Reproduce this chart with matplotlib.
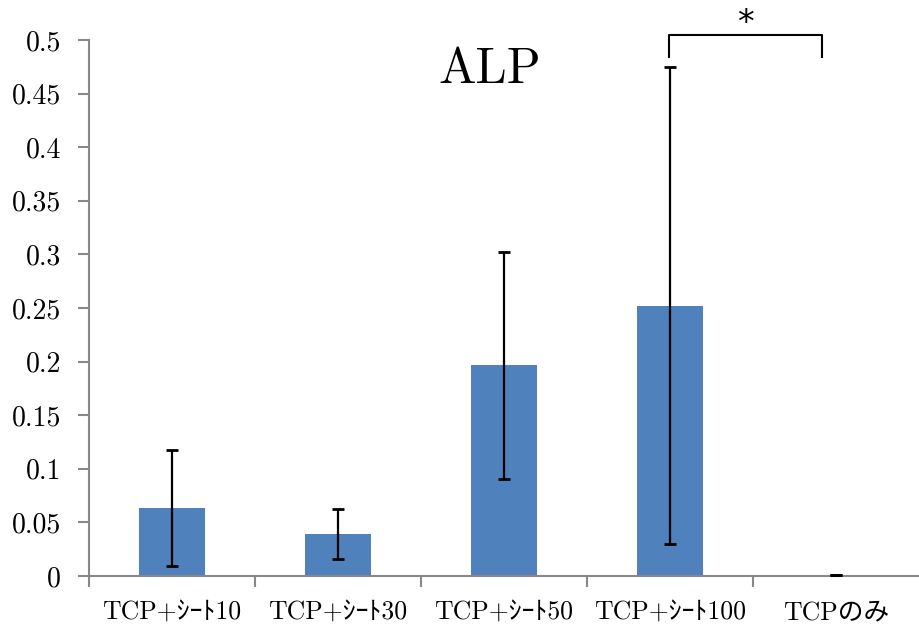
import matplotlib.pyplot as plt

plt.rcParams['font.family'] = ['cmr10', 'Noto Sans CJK JP']
plt.rcParams['axes.unicode_minus'] = False

categories = ["TCP+ｼｰﾄ10", "TCP+ｼｰﾄ30", "TCP+ｼｰﾄ50", "TCP+ｼｰﾄ100", "TCPのみ"]
means = [0.0634, 0.0392, 0.1965, 0.2520, 0.0008]
errors = [0.0541, 0.0229, 0.1062, 0.2225, 0.0]
yticks = [0, 0.05, 0.1, 0.15, 0.2, 0.25, 0.3, 0.35, 0.4, 0.45, 0.5]
ytick_labels = ["0", "0.05", "0.1", "0.15", "0.2", "0.25", "0.3", "0.35", "0.4", "0.45", "0.5"]

# significance bracket between group 4 and "TCPのみ"
bracket_x = [2.995, 3.915]
bracket_y = [0.484, 0.5045]

fig = plt.figure(figsize=(9.19, 6.3), dpi=100)
ax = fig.add_axes([0.0968, 0.0857, 0.9032, 0.8508])

x = list(range(len(categories)))
ax.bar(x, means, width=0.4, color='#4F81BD')
ax.errorbar(x, means, yerr=errors, fmt='none', ecolor='black',
            elinewidth=1.6, capsize=4.5, capthick=2, zorder=3)

ax.set_xlim(-0.5, 4.5)
ax.set_ylim(0, 0.5)
ax.set_yticks(yticks)
ax.set_yticklabels(ytick_labels, fontsize=20)

# category labels at centres, tick marks at boundaries
ax.set_xticks(x)
ax.set_xticklabels(categories, fontsize=18.5)
ax.tick_params(axis='x', which='major', length=0, pad=18)
ax.set_xticks([-0.5, 0.5, 1.5, 2.5, 3.5], minor=True)
ax.tick_params(axis='x', which='minor', length=8, width=1.5, color='#888888')
ax.tick_params(axis='y', length=8, width=1.5, color='#888888', pad=12)

for side in ['top', 'right']:
    ax.spines[side].set_visible(False)
for side in ['left', 'bottom']:
    ax.spines[side].set_color('#888888')
    ax.spines[side].set_linewidth(1.5)

ax.plot([bracket_x[0], bracket_x[0], bracket_x[1], bracket_x[1]],
        [bracket_y[0], bracket_y[1], bracket_y[1], bracket_y[0]],
        color='black', lw=1.5, clip_on=False)
ax.text(sum(bracket_x) / 2, 0.515, "*", fontsize=24, ha='center', va='center',
        family='DejaVu Sans')

ax.text(1.916, 0.472, "ALP", fontsize=36, ha='center', va='center')

fig.savefig("out.png", dpi=100)
